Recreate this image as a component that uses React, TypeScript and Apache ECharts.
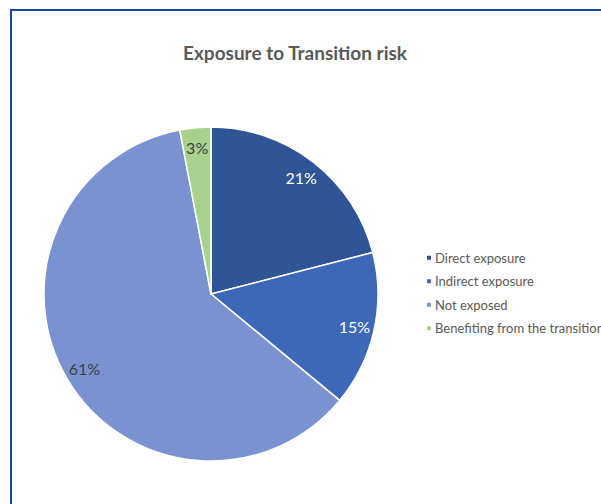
import React, { useEffect, useRef } from "react";
import * as echarts from "echarts";

const categories = ["Direct exposure", "Indirect exposure", "Not exposed", "Benefiting from the transition"];
const values = [21, 15, 61, 3];
const colors = ["#305596", "#3D68B8", "#7A93D0", "#A8D18D"];
const labelColors = ["#FFFFFF", "#FFFFFF", "#404040", "#404040"];
const titleText = "Exposure to Transition risk";

const FONT = "Lato, 'Open Sans', sans-serif";

export default function App() {
  const ref = useRef<HTMLDivElement>(null);
  useEffect(() => {
    if (!ref.current) return;
    const chart = echarts.init(ref.current, null, { renderer: "svg" });
    const data = categories.map((name, i) => ({
      name,
      value: values[i],
      itemStyle: { color: colors[i] },
    }));
    const labelData = categories.map((name, i) => ({
      name,
      value: values[i],
      label: { color: labelColors[i] },
    }));
    chart.setOption({
      animation: false,
      backgroundColor: "#FFFFFF",
      graphic: [
        {
          type: "rect",
          shape: { x: 11, y: 10, width: 700, height: 600 },
          style: { fill: "none", stroke: "#1547A3", lineWidth: 2 },
          z: 100,
        },
        {
          type: "text",
          x: 295,
          y: 52,
          style: {
            text: titleText,
            align: "center",
            verticalAlign: "middle",
            fontFamily: FONT,
            fontSize: 19,
            fontWeight: "bold",
            fill: "#595959",
          },
        },
      ],
      legend: {
        orient: "vertical",
        left: 420,
        top: 246,
        itemWidth: 6,
        itemHeight: 6,
        itemGap: 10,
        icon: "rect",
        selectedMode: false,
        data: categories.map((name, i) => ({ name, itemStyle: { color: colors[i] } })),
        textStyle: { fontFamily: FONT, fontSize: 13, lineHeight: 13.5, color: "#595959", padding: [0, 0, 0, -2] },
      },
      series: [
        {
          type: "pie",
          center: [211, 294],
          radius: [0, 167],
          startAngle: 90,
          clockwise: true,
          silent: true,
          label: { show: false },
          labelLine: { show: false },
          itemStyle: { borderColor: "#FFFFFF", borderWidth: 1.5 },
          data,
        },
        {
          type: "pie",
          center: [211, 294],
          radius: [120, 168],
          startAngle: 90,
          clockwise: true,
          silent: true,
          itemStyle: { color: "rgba(0,0,0,0)" },
          label: {
            show: true,
            position: "inside",
            formatter: (p: any) => `${p.value}%`,
            fontFamily: FONT,
            fontSize: 16,
            color: "#404040",
          },
          labelLine: { show: false },
          data: labelData,
        },
      ],
    });
    return () => chart.dispose();
  }, []);
  return (
    <div style={{ position: "absolute", left: 0, top: 0, width: 601, height: 504 }}>
      <div ref={ref} style={{ width: 601, height: 504 }} />
    </div>
  );
}
